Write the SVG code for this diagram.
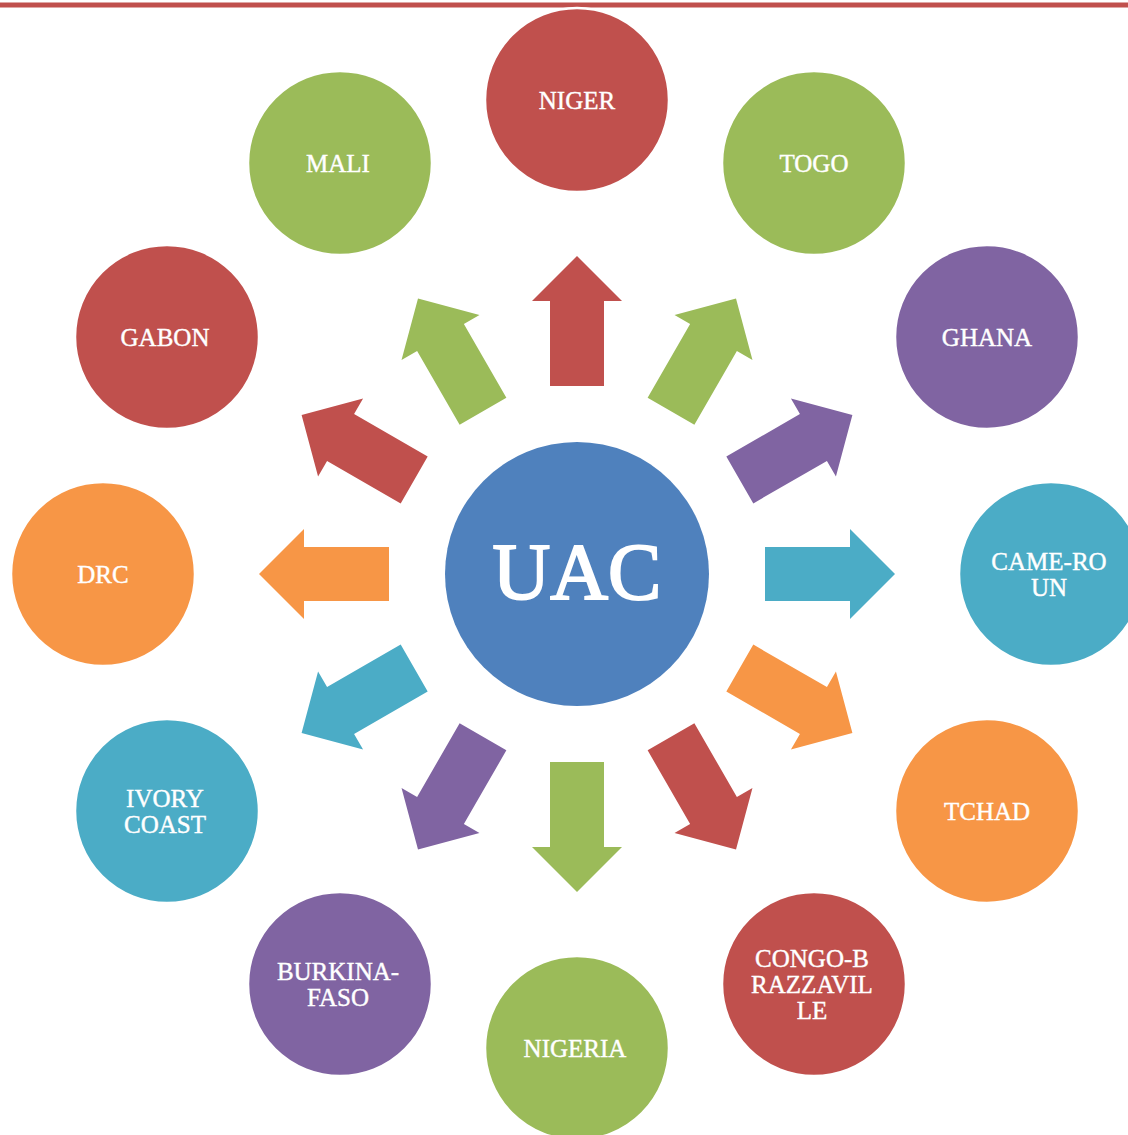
<svg xmlns="http://www.w3.org/2000/svg" width="1128" height="1135" viewBox="0 0 1128 1135">
<style>
.n{stroke:#fff;stroke-width:2.5}
.t{font-family:"Liberation Serif","Times New Roman",serif;font-size:25px;fill:#fff;stroke:#fff;stroke-width:0.4;text-anchor:middle}
.red{fill:#C0504D}.grn{fill:#9BBB59}.pur{fill:#8064A2}.tea{fill:#4BACC6}.org{fill:#F79646}.blu{fill:#4F81BD}
</style>
<defs>
<polygon id="arr" points="188,-27 273,-27 273,-45 318,0 273,45 273,27 188,27"/>
</defs>
<rect width="1128" height="1135" fill="#fff"/>
<rect x="0" y="2.5" width="1128" height="5" fill="#C0504D"/>
<g id="connectors" transform="translate(577 574)">
<use href="#arr" class="red" transform="rotate(-90)"/>
<use href="#arr" class="grn" transform="rotate(-60)"/>
<use href="#arr" class="pur" transform="rotate(-30)"/>
<use href="#arr" class="tea" transform="rotate(0)"/>
<use href="#arr" class="org" transform="rotate(30)"/>
<use href="#arr" class="red" transform="rotate(60)"/>
<use href="#arr" class="grn" transform="rotate(90)"/>
<use href="#arr" class="pur" transform="rotate(120)"/>
<use href="#arr" class="tea" transform="rotate(150)"/>
<use href="#arr" class="org" transform="rotate(180)"/>
<use href="#arr" class="red" transform="rotate(210)"/>
<use href="#arr" class="grn" transform="rotate(240)"/>
</g>
<g id="uac"><circle class="blu" cx="577" cy="574" r="132"/><text x="577" y="599" font-family="Liberation Serif, serif" font-size="80" fill="#fff" stroke="#fff" stroke-width="2" text-anchor="middle">UAC</text></g>
<g id="niger"><circle class="n red" cx="577" cy="100" r="92"/><text class="t" x="577" y="108.5">NIGER</text></g>
<g id="togo"><circle class="n grn" cx="814" cy="163" r="92"/><text class="t" x="814" y="171.5">TOGO</text></g>
<g id="ghana"><circle class="n pur" cx="987" cy="337" r="92"/><text class="t" x="987" y="345.5">GHANA</text></g>
<g id="cameroun"><circle class="n tea" cx="1051" cy="574" r="92"/><text class="t" x="1049" y="569.5">CAME-RO</text><text class="t" x="1049" y="595.5">UN</text></g>
<g id="tchad"><circle class="n org" cx="987" cy="811" r="92"/><text class="t" x="987" y="819.5">TCHAD</text></g>
<g id="congo"><circle class="n red" cx="814" cy="984" r="92"/><text class="t" x="812" y="966.5">CONGO-B</text><text class="t" x="812" y="993">RAZZAVIL</text><text class="t" x="812" y="1019">LE</text></g>
<g id="nigeria"><circle class="n grn" cx="577" cy="1048" r="92"/><text class="t" x="575" y="1056.5">NIGERIA</text></g>
<g id="burkina"><circle class="n pur" cx="340" cy="984" r="92"/><text class="t" x="338" y="979.5">BURKINA-</text><text class="t" x="338" y="1005.5">FASO</text></g>
<g id="ivory"><circle class="n tea" cx="167" cy="811" r="92"/><text class="t" x="165" y="806.5">IVORY</text><text class="t" x="165" y="832.5">COAST</text></g>
<g id="drc"><circle class="n org" cx="103" cy="574" r="92"/><text class="t" x="103" y="582.5">DRC</text></g>
<g id="gabon"><circle class="n red" cx="167" cy="337" r="92"/><text class="t" x="165" y="345.5">GABON</text></g>
<g id="mali"><circle class="n grn" cx="340" cy="163" r="92"/><text class="t" x="338" y="171.5">MALI</text></g>
</svg>
